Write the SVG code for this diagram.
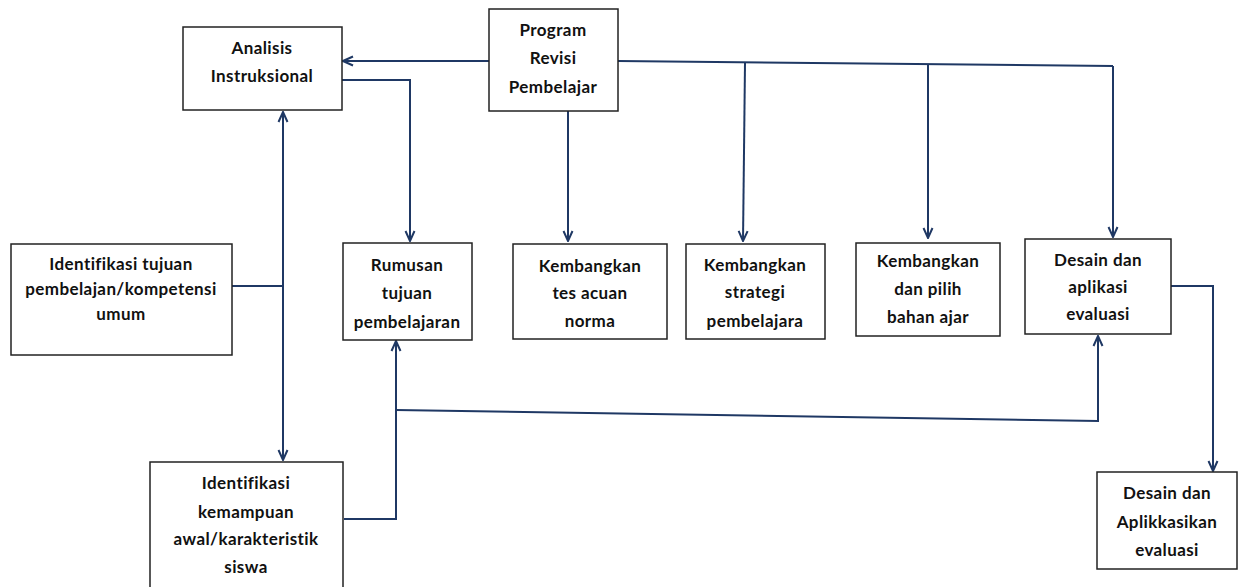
<svg xmlns="http://www.w3.org/2000/svg" width="1239" height="587" viewBox="0 0 1239 587">
<defs>
<marker id="ah" viewBox="0 0 12 12" refX="11" refY="6" markerWidth="12" markerHeight="12" markerUnits="userSpaceOnUse" orient="auto">
<path d="M1,1.5 L11,6 L1,10.5" fill="none" stroke="#1f3864" stroke-width="2"/>
</marker>
<style>
.box{fill:#fff;stroke:#222;stroke-width:1.5}
.t{font-family:Lato,"Open Sans","Liberation Sans",sans-serif;font-weight:bold;font-size:17px;letter-spacing:0.4px;font-variant-ligatures:none;fill:#111;text-anchor:middle}
.c{fill:none;stroke:#1f3864;stroke-width:2}
.a{marker-end:url(#ah)}
</style>
</defs>
<rect width="1239" height="587" fill="#fff"/>
<g id="connectors">
<path class="c a" d="M489,61 L343,61"/>
<path class="c a" d="M342,80 L410,80 L410,241"/>
<path class="c a" d="M568,111 L568,241"/>
<path class="c" d="M618,61 L1113,66"/>
<path class="c a" d="M745,63 L743,241"/>
<path class="c a" d="M928,65 L928,238"/>
<path class="c a" d="M1113,66 L1113,237"/>
<path class="c a" d="M283,286 L283,112"/>
<path class="c a" d="M283,286 L283,460"/>
<path class="c" d="M232,286 L283,286"/>
<path class="c a" d="M344,519 L396,519 L396,341"/>
<path class="c a" d="M396,410 L1098,421 L1098,336"/>
<path class="c a" d="M1171,286 L1213,286 L1213,471"/>
</g>
<g id="analisis"><rect class="box" x="183" y="27" width="159" height="83"/>
<text class="t" x="262" y="54">Analisis</text><text class="t" x="262" y="82">Instruksional</text></g>
<g id="program"><rect class="box" x="489" y="9" width="129" height="102"/>
<text class="t" x="553" y="36">Program</text><text class="t" x="553" y="64">Revisi</text><text class="t" x="553" y="93">Pembelajar</text></g>
<g id="identifikasi-tujuan"><rect class="box" x="11" y="244" width="221" height="111"/>
<text class="t" x="121" y="270">Identifikasi tujuan</text><text class="t" x="121" y="295">pembelajan/kompetensi</text><text class="t" x="121" y="320">umum</text></g>
<g id="rumusan"><rect class="box" x="343" y="243" width="129" height="97"/>
<text class="t" x="407" y="271">Rumusan</text><text class="t" x="407" y="299">tujuan</text><text class="t" x="407" y="328">pembelajaran</text></g>
<g id="tes"><rect class="box" x="513" y="244" width="154" height="95"/>
<text class="t" x="590" y="272">Kembangkan</text><text class="t" x="590" y="299">tes acuan</text><text class="t" x="590" y="327">norma</text></g>
<g id="strategi"><rect class="box" x="686" y="244" width="139" height="95"/>
<text class="t" x="755" y="271">Kembangkan</text><text class="t" x="755" y="298">strategi</text><text class="t" x="755" y="327">pembelajara</text></g>
<g id="bahan"><rect class="box" x="856" y="243" width="144" height="93"/>
<text class="t" x="928" y="267">Kembangkan</text><text class="t" x="928" y="295">dan pilih</text><text class="t" x="928" y="323">bahan ajar</text></g>
<g id="desain1"><rect class="box" x="1025" y="239" width="146" height="95"/>
<text class="t" x="1098" y="266">Desain dan</text><text class="t" x="1098" y="293">aplikasi</text><text class="t" x="1098" y="320">evaluasi</text></g>
<g id="identifikasi-kemampuan"><rect class="box" x="150" y="462" width="193" height="130"/>
<text class="t" x="246" y="489">Identifikasi</text><text class="t" x="246" y="518">kemampuan</text><text class="t" x="246" y="545">awal/karakteristik</text><text class="t" x="246" y="573">siswa</text></g>
<g id="desain2"><rect class="box" x="1097" y="472" width="140" height="97"/>
<text class="t" x="1167" y="499">Desain dan</text><text class="t" x="1167" y="528">Aplikkasikan</text><text class="t" x="1167" y="556">evaluasi</text></g>
</svg>
